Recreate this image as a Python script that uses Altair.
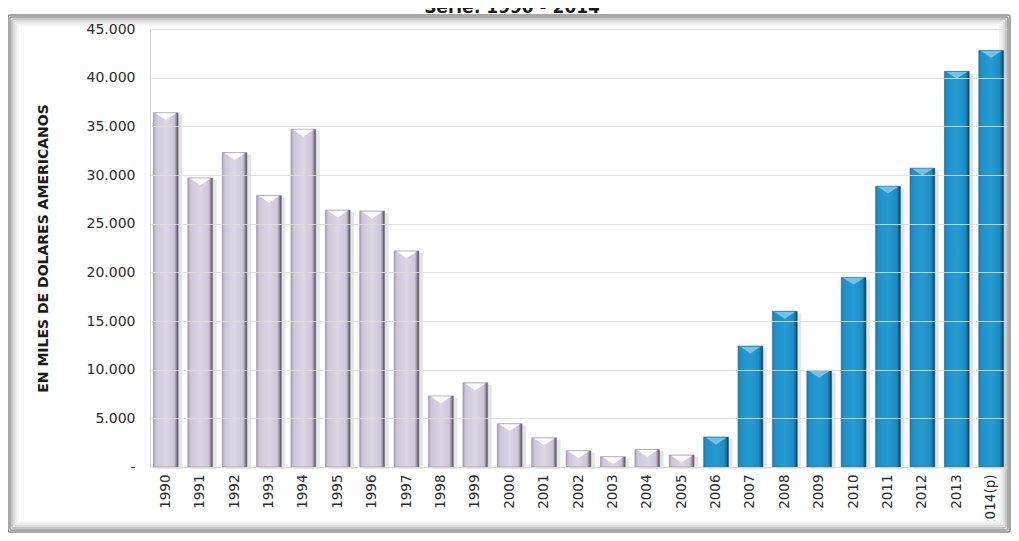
import altair as alt
import pandas as pd

# ---- data ----
years = ["1990", "1991", "1992", "1993", "1994", "1995", "1996", "1997", "1998",
         "1999", "2000", "2001", "2002", "2003", "2004", "2005", "2006", "2007",
         "2008", "2009", "2010", "2011", "2012", "2013", "2014(p)"]
values = [36400, 29700, 32300, 27900, 34700, 26400, 26300, 22200, 7300,
          8650, 4450, 3000, 1670, 1060, 1800, 1230, 3080, 12420,
          16000, 9920, 19480, 28850, 30700, 40650, 42800]
groups = ["a"] * 16 + ["b"] * 9
y_ticks = [0, 5000, 10000, 15000, 20000, 25000, 30000, 35000, 40000, 45000]
title_text = "Serie: 1990 - 2014"
y_title = "EN MILES DE DOLARES AMERICANOS"

df = pd.DataFrame({"anio": years, "valor": values, "grupo": groups})

W, H = 857, 438
FONT = "DejaVu Sans"

x_enc = alt.X("anio:N", sort=years,
              scale=alt.Scale(paddingInner=0.28, paddingOuter=0.1),
              axis=alt.Axis(title=None, labelAngle=270, labelFontSize=13.5,
                            labelFont=FONT, labelColor="#2b2b2b", labelPadding=7,
                            ticks=False, domain=True, domainColor="#d0d0d0",
                            grid=False))
y_enc = alt.Y("valor:Q",
              scale=alt.Scale(domain=[0, 45000], nice=False),
              axis=alt.Axis(values=y_ticks, title=y_title,
                            labelExpr="datum.value == 0 ? '-' : replace(format(datum.value, ','), ',', '.')",
                            labelFontSize=14, labelFont=FONT, labelColor="#2b2b2b",
                            labelPadding=15, ticks=False, domain=False,
                            grid=True, gridColor="#dcdcdc", gridOpacity=0.85,
                            titleFont=FONT, titleFontSize=14, titleFontWeight="bold",
                            titleColor="#1a1a1a", titleAngle=270, titleX=-107,
                            titleY=H / 2, titleAlign="center", titleBaseline="middle",
                            zindex=1))

base = alt.Chart(df)

# decorative outer frame (page layout only)
frame_specs = [
    (0, "#8c8c8c", 1.5),
    (2, "#aaaaaa", 2),
    (4, "#c6c6c6", 2),
    (6, "#dcdcdc", 2),
    (8, "#ececec", 2),
    (10, "#f5f5f5", 2),
]
frames = []
for inset, col, sw in frame_specs:
    frames.append(
        base.mark_rect(fill=None, stroke=col, strokeWidth=sw, cornerRadius=2).encode(
            x=alt.value(-142 + inset), x2=alt.value(860 - inset),
            y=alt.value(-14 + inset), y2=alt.value(503 - inset)
        ).transform_filter(alt.datum.anio == "1990")
    )

lav_grad = alt.Gradient(gradient="linear", x1=0, x2=1, y1=0, y2=0, stops=[
    alt.GradientStop(offset=0.0, color="#aca4b8"),
    alt.GradientStop(offset=0.12, color="#cec7d9"),
    alt.GradientStop(offset=0.5, color="#dcd6e5"),
    alt.GradientStop(offset=0.84, color="#cdc6d8"),
    alt.GradientStop(offset=0.93, color="#8c8596"),
    alt.GradientStop(offset=1.0, color="#3c3842"),
])
blue_grad = alt.Gradient(gradient="linear", x1=0, x2=1, y1=0, y2=0, stops=[
    alt.GradientStop(offset=0.0, color="#1a7fb6"),
    alt.GradientStop(offset=0.12, color="#1f91c9"),
    alt.GradientStop(offset=0.5, color="#259bd2"),
    alt.GradientStop(offset=0.84, color="#1d8dc4"),
    alt.GradientStop(offset=0.93, color="#136893"),
    alt.GradientStop(offset=1.0, color="#0a2c40"),
])

shadow = base.mark_bar(color="#cccccc", opacity=0.5, xOffset=4, yOffset=2).encode(
    x=x_enc, y=y_enc)

bars_a = base.mark_bar(color=lav_grad, stroke="#8f8899", strokeWidth=0.6).encode(
    x=x_enc, y=y_enc).transform_filter(alt.datum.grupo == "a")
bars_b = base.mark_bar(color=blue_grad, stroke="#126a96", strokeWidth=0.6).encode(
    x=x_enc, y=y_enc).transform_filter(alt.datum.grupo == "b")

tri_shape = "M-1,-0.33L1,-0.33L0,0.33Z"
tops_a = base.mark_point(shape=tri_shape, filled=True, color="#ffffff", opacity=0.92,
                         size=420, yOffset=4, strokeWidth=0).encode(
    x=x_enc, y=y_enc).transform_filter(alt.datum.grupo == "a")
tops_b = base.mark_point(shape=tri_shape, filled=True, color="#7cc6ea", opacity=0.9,
                         size=420, yOffset=4, strokeWidth=0).encode(
    x=x_enc, y=y_enc).transform_filter(alt.datum.grupo == "b")

title_mark = base.mark_text(text=title_text, font=FONT, fontSize=17, fontWeight="bold",
                            color="#1a1a1a", baseline="alphabetic", align="center").encode(
    x=alt.value(362), y=alt.value(-16)).transform_filter(alt.datum.anio == "1990")

chart = alt.layer(*frames, shadow, bars_a, bars_b, tops_a, tops_b, title_mark).properties(
    width=W, height=H,
    autosize=alt.AutoSizeParams(type="none"),
    padding={"left": 142, "top": 21, "right": 4, "bottom": 66},
    background="white",
).configure_view(stroke="#d4d4d4", strokeWidth=1)

chart.save("out.html", embed_options={"renderer": "svg", "actions": False})
